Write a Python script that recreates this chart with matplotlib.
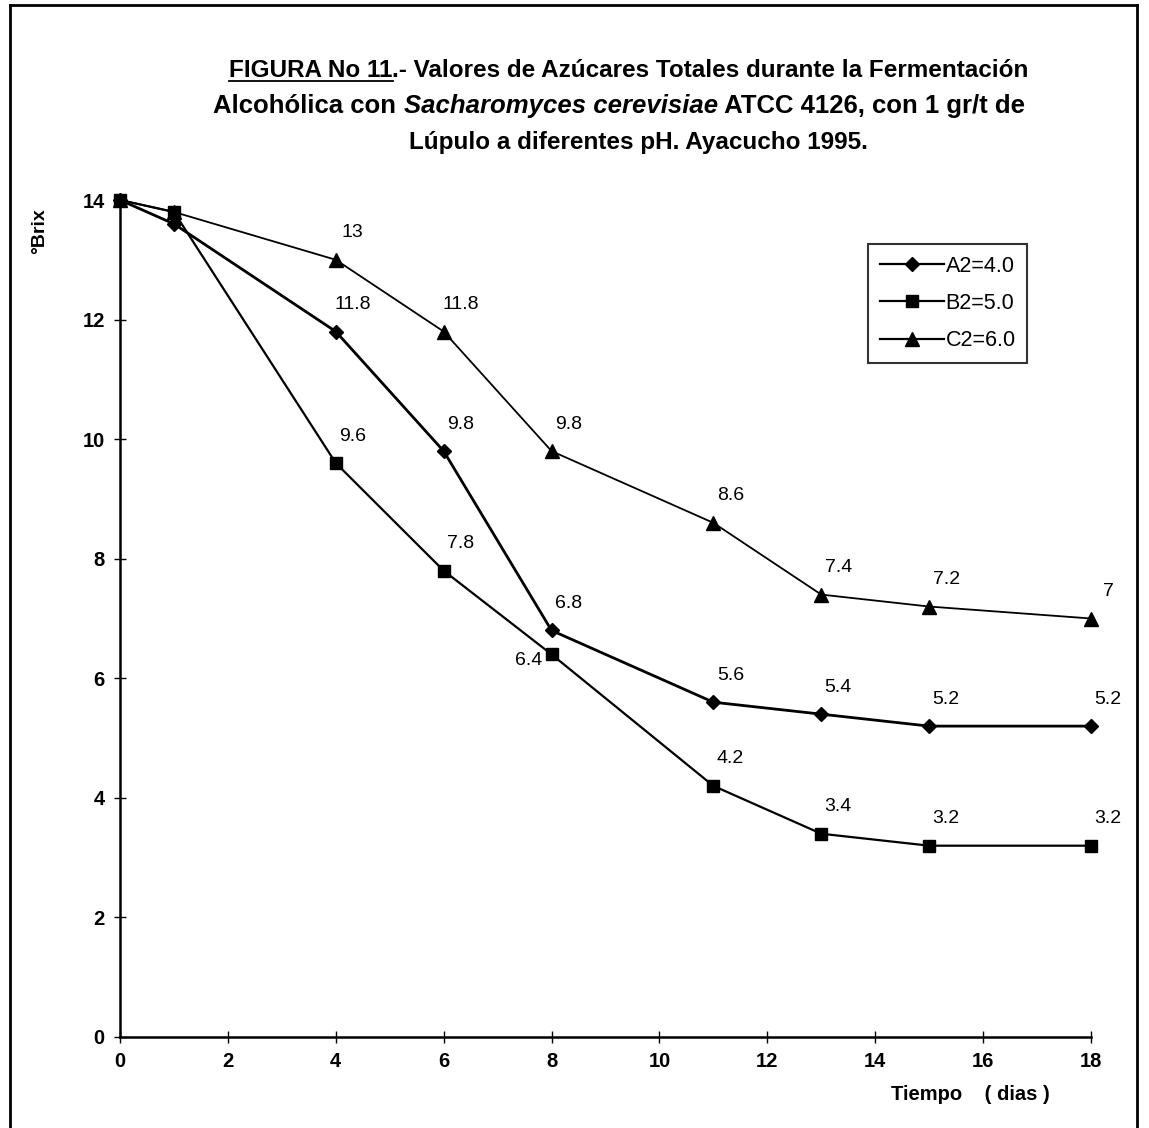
import matplotlib
matplotlib.use("Agg")
import matplotlib.pyplot as plt
from matplotlib.lines import Line2D

# data
dias = [0, 1, 4, 6, 8, 11, 13, 15, 18]
a2 = [14, 13.6, 11.8, 9.8, 6.8, 5.6, 5.4, 5.2, 5.2]
b2 = [14, 13.8, 9.6, 7.8, 6.4, 4.2, 3.4, 3.2, 3.2]
c2 = [14, 13.8, 13, 11.8, 9.8, 8.6, 7.4, 7.2, 7]
series_names = ["A2=4.0", "B2=5.0", "C2=6.0"]
x_ticks = list(range(0, 19, 2))
y_ticks = list(range(0, 15, 2))

FONT = ["Liberation Sans", "DejaVu Sans"]
plt.rcParams["font.family"] = FONT

W, H = 1149, 1128
fig = plt.figure(figsize=(W / 100, H / 100), dpi=100)
ax = fig.add_axes([120 / W, 1 - 1037 / H, (1091 - 120) / W, (1037 - 200) / H])

styles = [("D", 7.5, 2.0), ("s", 9, 1.6), ("^", 10, 1.3)]
for ys, name, (mk, ms, lw) in zip([a2, b2, c2], series_names, styles):
    ax.plot(dias, ys, color="black", lw=lw, marker=mk, ms=ms, clip_on=False,
            label=name)

# value labels for day >= 4
for ys, sid in zip([a2, b2, c2], "ABC"):
    for x, y in zip(dias, ys):
        if x < 4:
            continue
        txt = f"{y:g}"
        if sid == "B" and x == 8:
            ax.annotate(txt, (x, y), xytext=(-9, -6), textcoords="offset pixels",
                        ha="right", va="center", fontsize=14)
        else:
            ax.annotate(txt, (x, y), xytext=(17, 27), textcoords="offset pixels",
                        ha="center", va="center", fontsize=14)

ax.set_xlim(0, 18)
ax.set_ylim(0, 14)
ax.set_xticks(x_ticks)
ax.set_yticks(y_ticks)
for s in ["top", "right"]:
    ax.spines[s].set_visible(False)
for s in ["left", "bottom"]:
    ax.spines[s].set_linewidth(1.8)
ax.tick_params(direction="inout", length=8, width=1, labelsize=14.5, pad=7)
for lab in ax.get_xticklabels() + ax.get_yticklabels():
    lab.set_fontweight("bold")

handles = [Line2D([], [], color="black", marker=m, ms=s, lw=1.6) for m, s, _ in styles]
leg = fig.legend(handles, series_names, loc="upper left",
                 bbox_to_anchor=(868 / W, 1 - 244 / H), borderaxespad=0,
                 fontsize=15.5, frameon=True, fancybox=False, handlelength=3.0,
                 handletextpad=0.05, borderpad=0.55, labelspacing=0.75)
leg.get_frame().set_edgecolor("black")
leg.get_frame().set_linewidth(1.5)

fig.text(970 / W, 1 - 1095 / H, "Tiempo    ( dias )", ha="center", va="center",
         fontsize=14.5, fontweight="bold")
fig.text(40 / W, 1 - 231 / H, "°Brix", rotation=90, ha="center", va="center",
         fontsize=14, fontweight="bold")

# title, built piece by piece (underline + italic)
fig.canvas.draw()
rend = fig.canvas.get_renderer()
TSIZE = 17.5


def put_line(pieces, cx, y, size=TSIZE):
    # pieces: list of (text, style, underline)
    objs = []
    for t, st, ul in pieces:
        o = fig.text(0, y, t, fontsize=size, fontweight="bold",
                     style=st, ha="left", va="baseline")
        objs.append((o, ul))
    widths = [o.get_window_extent(rend).width for o, _ in objs]
    x = cx * W - sum(widths) / 2
    for (o, ul), w in zip(objs, widths):
        o.set_x(x / W)
        if ul:
            fig.add_artist(Line2D([x / W, (x + w) / W], [y - 4 / H, y - 4 / H],
                                  color="black", lw=1.3))
        x += w


put_line([("FIGURA No 11", "normal", True),
          (".- Valores de Azúcares Totales durante la Fermentación", "normal", False)],
         629 / W, 1 - 77 / H)
put_line([("Alcohólica con ", "normal", False),
          ("Sacharomyces cerevisiae", "italic", False),
          (" ATCC 4126, con 1 gr/t de", "normal", False)],
         619 / W, 1 - 113 / H, size=18.5)
put_line([("Lúpulo a diferentes pH. Ayacucho 1995.", "normal", False)],
         638 / W, 1 - 149 / H)

# scanned page border
for xs, ys in [([10, 1137], [5, 5]), ([10, 10], [5, 1128]), ([1137, 1137], [5, 1128])]:
    fig.add_artist(Line2D([v / W for v in xs], [1 - v / H for v in ys],
                          color="black", lw=2))

fig.savefig("out.png", dpi=100)
